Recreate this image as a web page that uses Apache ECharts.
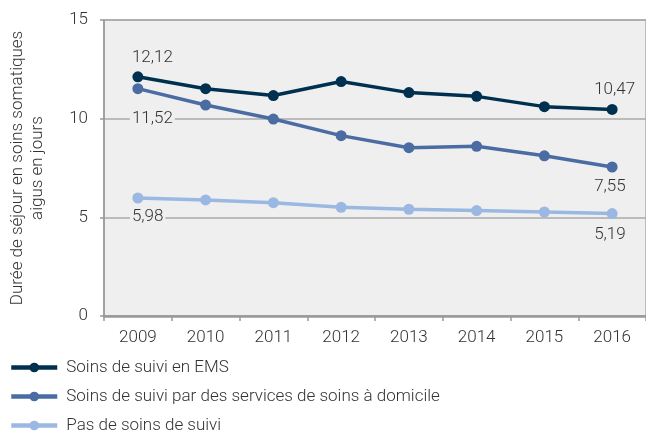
<!DOCTYPE html>
<html>
<head>
<meta charset="utf-8">
<script src="https://cdn.jsdelivr.net/npm/echarts@6/dist/echarts.min.js"></script>
<style>
  html, body { margin: 0; padding: 0; background: #fff; }
  #chart { width: 646px; height: 435px; }
</style>
</head>
<body>
<div id="chart"></div>
<script>
var years = ['2009', '2010', '2011', '2012', '2013', '2014', '2015', '2016'];
var ems = [12.12, 11.52, 11.17, 11.88, 11.32, 11.13, 10.61, 10.47];
var domicile = [11.52, 10.69, 9.98, 9.14, 8.53, 8.60, 8.12, 7.55];
var sansSuivi = [5.98, 5.88, 5.74, 5.51, 5.41, 5.34, 5.27, 5.19];
var yTicks = [0, 5, 10, 15];

var font = 'Roboto';
var weight = 300;
var textColor = '#333';

function fr(v) {
  return String(v).replace('.', ',');
}

// labels only on the first and last year
function withLabels(values, firstDy, lastDy) {
  return values.map(function(v, i) {
    if (i === 0 || i === values.length - 1) {
      var dy = i === 0 ? firstDy : lastDy;
      return {
        value: v,
        label: {
          show: true,
          position: 'inside',
          align: 'left',
          offset: [i === 0 ? -8 : -20, dy],
          formatter: function(p) { return fr(p.value); },
          color: textColor,
          fontFamily: font,
          fontWeight: weight,
          fontSize: 17,
          backgroundColor: '#efefef',
          padding: [0, 2]
        }
      };
    }
    return v;
  });
}

function lineSeries(name, values, color, firstDy, lastDy) {
  return {
    name: name,
    type: 'line',
    data: withLabels(values, firstDy, lastDy),
    symbol: 'circle',
    symbolSize: 11,
    lineStyle: { color: color, width: 3.5 },
    itemStyle: { color: color },
    emphasis: { disabled: true }
  };
}

var myChart = echarts.init(document.getElementById('chart'));
myChart.setOption({
  animation: false,
  grid: {
    left: 93,
    top: 20,
    right: -7,
    bottom: 119,
    show: true,
    backgroundColor: '#efefef',
    borderColor: '#aaa',
    borderWidth: 1.5
  },
  legend: {
    orient: 'vertical',
    left: 9,
    top: 359,
    height: 120,
    padding: 0,
    itemWidth: 46,
    itemHeight: 12,
    itemGap: 12,
    lineStyle: { width: 4.5 },
    textStyle: { color: textColor, fontFamily: font, fontWeight: weight, fontSize: 17, padding: [0, 0, 0, 4] },
    data: ['Soins de suivi en EMS', 'Soins de suivi par des services de soins à domicile', 'Pas de soins de suivi']
  },
  xAxis: {
    type: 'category',
    data: years,
    axisLine: { lineStyle: { color: '#999', width: 2.5 } },
    axisTick: { show: true, length: 5, lineStyle: { color: '#999', width: 1.5 } },
    axisLabel: { color: textColor, fontFamily: font, fontWeight: weight, fontSize: 17, margin: 13 }
  },
  yAxis: {
    type: 'value',
    min: yTicks[0],
    max: yTicks[yTicks.length - 1],
    interval: 5,
    name: 'Durée de séjour en soins somatiques\naigus en jours',
    nameLocation: 'middle',
    nameGap: 56,
    nameTextStyle: { color: textColor, fontFamily: font, fontWeight: weight, fontSize: 17, lineHeight: 20 },
    axisLine: { show: true, lineStyle: { color: '#999', width: 1.5 } },
    axisTick: { show: true, length: 4, lineStyle: { color: '#999', width: 1.5 } },
    axisLabel: { color: textColor, fontFamily: font, fontWeight: weight, fontSize: 17, margin: 16 },
    splitLine: { lineStyle: { color: '#aaa', width: 1.5 } }
  },
  series: [
    lineSeries('Soins de suivi en EMS', ems, '#00304f', -19, -20),
    lineSeries('Soins de suivi par des services de soins à domicile', domicile, '#4a6ca3', 30, 20),
    lineSeries('Pas de soins de suivi', sansSuivi, '#9ab8e2', 19, 21)
  ]
});
</script>
</body>
</html>
